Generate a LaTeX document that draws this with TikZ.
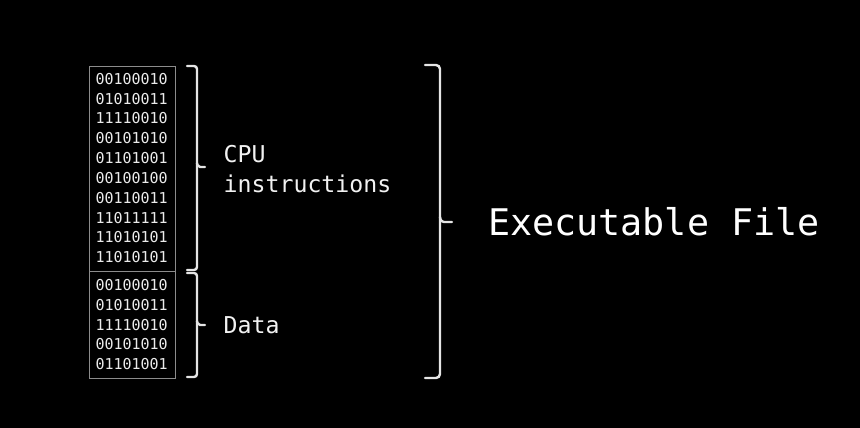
\documentclass[tikz,border=0pt]{standalone}
\usepackage{fontspec}
\setmonofont{DejaVu Sans Mono}
\begin{document}
\begin{tikzpicture}[x=1pt,y=-1pt,
  bits/.style={anchor=base west,inner sep=0pt,text=white!92!black,font=\ttfamily\fontsize{15}{16}\selectfont},
  lbl/.style={anchor=base west,inner sep=0pt,text=white!95!black,font=\ttfamily\fontsize{23.2}{24}\selectfont},
  big/.style={anchor=base west,inner sep=0pt,text=white,font=\ttfamily\fontsize{36.7}{40}\selectfont},
  brace/.style={draw=white!90!black,line width=2.4pt,rounded corners=3pt,line cap=round},
  boxline/.style={draw=white!55!black,line width=0.8pt}]
\fill[black] (0,0) rectangle (860,428);
\useasboundingbox (0,0) rectangle (860,428);
% memory box
\node[boxline,rectangle,minimum width=86pt,minimum height=312pt,anchor=north west,inner sep=0pt] (box) at (89,66) {};
\coordinate (dl) at (89,271);
\coordinate (dr) at (175,271);
\draw[boxline] (dl) -- (dr);
% bits
\foreach \t [count=\i from 0] in {00100010,01010011,11110010,00101010,01101001,00100100,00110011,11011111,11010101,11010101}
  \node[bits] (c\i) at (95.3,84.3+19.83*\i) {\t};
\foreach \t [count=\i from 0] in {00100010,01010011,11110010,00101010,01101001}
  \node[bits] (d\i) at (95.3,290.5+19.75*\i) {\t};
% braces
\coordinate (b1t) at (187,66);
\coordinate (b1b) at (187,270);
\coordinate (b1m) at (205,167);
\draw[brace] (b1t) -- (197,66) -- (197,270) -- (b1b);
\draw[brace,rounded corners=2pt] (197,163) -- (198,167) -- (b1m);
\coordinate (b2t) at (187,273);
\coordinate (b2b) at (187,377);
\coordinate (b2m) at (205,325);
\draw[brace] (b2t) -- (197,273) -- (197,377) -- (b2b);
\draw[brace,rounded corners=2pt] (197,321) -- (198,325) -- (b2m);
\coordinate (b3t) at (425,65);
\coordinate (b3b) at (425,378);
\coordinate (b3m) at (452,222);
\draw[brace,rounded corners=4pt] (b3t) -- (440,65) -- (440,378) -- (b3b);
\draw[brace,rounded corners=3pt] (440,217) -- (441,222) -- (b3m);
% labels
\node[lbl] (cpu) at (223.5,162) {CPU};
\node[lbl] (ins) at (223.5,192) {instructions};
\node[lbl] (data) at (223.5,333) {Data};
\node[big] (exe) at (488,235) {Executable File};
\end{tikzpicture}
\end{document}
